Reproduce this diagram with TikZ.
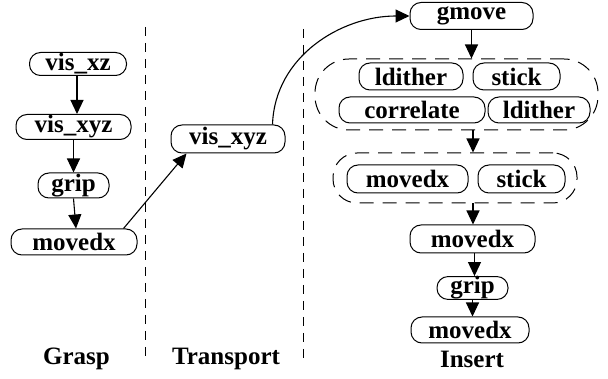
\documentclass[tikz,border=0pt]{standalone}
\usepackage{fontspec}
\setmainfont{Liberation Serif}
\usetikzlibrary{arrows.meta}
\begin{document}
\begin{tikzpicture}[x=1pt,y=-1pt,
  box/.style={draw,line width=1pt,rounded corners=11pt,inner sep=0pt,
    font=\fontsize{25}{27}\selectfont\bfseries},
  grp/.style={draw,line width=1pt,dash pattern=on 14pt off 9pt,inner sep=0pt},
  sep/.style={line width=1pt,dash pattern=on 9pt off 7pt},
  lab/.style={font=\fontsize{25}{27}\selectfont\bfseries,inner sep=0pt},
  arr/.style={line width=1.1pt,-{Triangle[length=14pt,width=13pt]}}]
\useasboundingbox (0,0) rectangle (608,379);
% separators
\coordinate (s1a) at (145,27); \coordinate (s1b) at (145,357);
\coordinate (s2a) at (303,29); \coordinate (s2b) at (303,363);
\draw[sep] (s1a) -- (s1b);
\draw[sep] (s2a) -- (s2b);
% Grasp
\node[box,minimum width=97pt,minimum height=23pt] (g1) at (78,64) {vis\_xz};
\node[box,minimum width=115pt,minimum height=25pt] (g2) at (73.5,127) {vis\_xyz};
\node[box,minimum width=71pt,minimum height=25pt] (g3) at (73.5,185.5) {grip};
\node[box,minimum width=126pt,minimum height=26pt] (g4) at (74,242) {movedx};
% Transport
\node[box,minimum width=114pt,minimum height=28pt] (t1) at (228,139) {vis\_xyz};
% Insert
\node[box,minimum width=123pt,minimum height=27pt] (i1) at (471.5,16) {gmove};
\node[grp,rounded corners=34pt,minimum width=283pt,minimum height=71pt] (G1) at (456.5,94.5) {};
\node[box,minimum width=104pt,minimum height=27pt] (a1) at (411,76.5) {ldither};
\node[box,minimum width=87pt,minimum height=27pt] (a2) at (516.5,76.5) {stick};
\node[box,minimum width=146pt,minimum height=26pt] (a3) at (412,110) {correlate};
\node[box,minimum width=102pt,minimum height=26pt] (a4) at (539,110) {ldither};
\node[grp,rounded corners=24pt,minimum width=244pt,minimum height=50pt] (G2) at (455,178) {};
\node[box,minimum width=121pt,minimum height=28pt] (b1) at (407.5,179) {movedx};
\node[box,minimum width=87pt,minimum height=28pt] (b2) at (521.5,179) {stick};
\node[box,minimum width=125pt,minimum height=28pt] (i2) at (472.5,239) {movedx};
\node[box,minimum width=71pt,minimum height=22pt] (i3) at (472.5,288) {grip};
\node[box,minimum width=118pt,minimum height=26pt] (i4) at (470,330) {movedx};
% labels
\node[lab] (L1) at (76.5,359) {Grasp};
\node[lab] (L2) at (226,359) {Transport};
\node[lab] (L3) at (472,359) {Insert};
% edges
\draw[arr] ([xshift=-1pt]g1.south) -- ([xshift=-1pt]g2.north -| g1.south);
\draw[arr] (g2.south) -- (g3.north);
\draw[arr] (g3.south) -- ([xshift=2pt]g4.north);
\draw[arr] ([xshift=-14pt]g4.north east) -- ([xshift=16pt]t1.south west);
\draw[arr] ([xshift=-13pt]t1.north east) to[out=88,in=180] (i1.west);
\draw[arr] (i1.south) -- (i1.south |- G1.north);
\draw[arr] ([xshift=1.5pt]i1.south |- G1.south) -- ([xshift=1.5pt]i1.south |- G2.north);
\draw[arr] ([xshift=1.5pt]i1.south |- G2.south) -- ([xshift=1.5pt]i1.south |- i2.north);
\draw[arr] ([xshift=2pt]i2.south) -- ([xshift=2pt]i3.north);
\draw[arr] (i3.south) -- (i3.south |- i4.north);
\end{tikzpicture}
\end{document}
